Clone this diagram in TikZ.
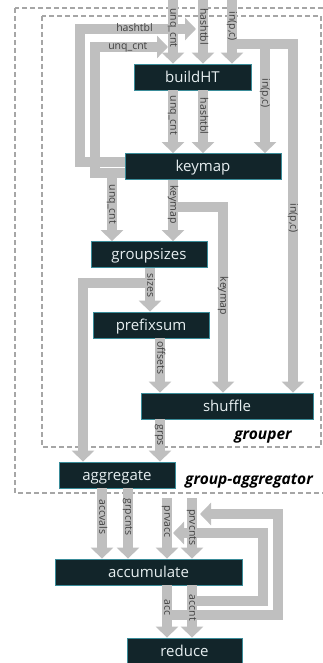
\documentclass[tikz,border=0pt]{standalone}
\usepackage{fontspec}
\setmainfont{Open Sans}
\usepackage{tikz}
\usetikzlibrary{positioning}
\usetikzlibrary{calc,arrows.meta}

\definecolor{stagefill}{HTML}{12252A}
\definecolor{stageedge}{HTML}{3A8C99}
\definecolor{stagetext}{HTML}{E6EEF0}
\definecolor{flowgray}{HTML}{BFBFBF}
\definecolor{taggray}{HTML}{404040}
\definecolor{framegray}{HTML}{A6A6A6}

\newcommand{\stagefont}{\fontsize{15}{17}\selectfont}
\newcommand{\tagfont}{\fontsize{10.5}{11}\selectfont}
\newcommand{\zonefont}{\bfseries\itshape\fontsize{15.5}{17}\selectfont}

\tikzset{
	stage/.style={draw=stageedge, line width=0.8pt, fill=stagefill, text=stagetext,
		minimum height=26pt, inner sep=0pt, text height=10.7pt, text depth=0pt, font=\stagefont},
	flow/.style={draw=flowgray, line width=9.5pt, -{Triangle[width=22pt,length=11pt]}},
	tag/.style={font=\tagfont, text=taggray, inner sep=0pt, text height=7.5pt, text depth=2pt},
	vtag/.style={tag, rotate=-90},
	frame/.style={draw=framegray, line width=1.1pt, dash pattern=on 5pt off 3pt},
	zone/.style={font=\zonefont, text=black, inner sep=0pt},
}

\begin{document}
\begin{tikzpicture}

	\useasboundingbox (0pt,0pt) rectangle (322pt,-663pt);

	% ---------------------
	% Dashed frames
	\draw[frame] (15pt,-8pt) rectangle (340pt,-493pt);
	\draw[frame] (42pt,-16pt) rectangle (321pt,-447pt);

	% ---------------------
	% Stages
	\node[stage, minimum width=117pt] (buildHT)    at (192.5pt,-77pt)  {buildHT};
	\node[stage, minimum width=156pt] (keymap)     at (203pt,-166.5pt) {keymap};
	\node[stage, minimum width=116pt] (groupsizes) at (149pt,-254.5pt) {groupsizes};
	\node[stage, minimum width=116pt] (prefixsum)  at (151pt,-325pt)   {prefixsum};
	\node[stage, minimum width=172pt] (shuffle)    at (227pt,-406pt)   {shuffle};
	\node[stage, minimum width=116pt] (aggregate)  at (117pt,-475pt)   {aggregate};
	\node[stage, minimum width=187pt] (accumulate) at (148.5pt,-572pt) {accumulate};
	\node[stage, minimum width=115pt] (reduce)     at (184.5pt,-651pt) {reduce};

	\node[zone] (grouperTag) at (263pt,-437pt) {grouper};
	\node[zone] (aggTag)     at (249pt,-481pt) {group-aggregator};

	% ---------------------
	% Columns
	\coordinate (InUnq)   at (173pt,0pt);
	\coordinate (InHash)  at (203pt,0pt);
	\coordinate (InPC)    at (232pt,0pt);
	\coordinate (PCKey)   at (265pt,0pt);
	\coordinate (PCShuf)  at (293pt,0pt);
	\coordinate (UnqDown) at (112pt,0pt);
	\coordinate (KeyShuf) at (223pt,0pt);
	\coordinate (SizeCol) at (150pt,0pt);
	\coordinate (SizeAgg) at (83pt,0pt);
	\coordinate (OffCol)  at (160pt,0pt);
	\coordinate (ValCol)  at (102pt,0pt);
	\coordinate (GrpCol)  at (128pt,0pt);
	\coordinate (AccCol)  at (167pt,0pt);
	\coordinate (CntCol)  at (192pt,0pt);

	% ---------------------
	% Loops and branches (below the straight flows)
	\path (keymap.west) +(0pt,4.5pt)  coordinate (KmHash);
	\path (keymap.west) +(0pt,-6.5pt) coordinate (KmUnq);
	\coordinate (HashTurn) at (80pt,-29pt);
	\coordinate (UnqTurn)  at (95pt,-47pt);
	\path (InHash) +(-7pt,-29pt) coordinate (HashJoin);
	\path (InUnq)  +(-5pt,-47pt) coordinate (UnqJoin);

	\draw[flow] (KmHash) -| (HashTurn) -- node[tag, pos=0.47] {hashtbl} (HashJoin);
	\draw[flow] (KmUnq) -| (UnqTurn) -- node[tag, pos=0.45] {unq\_cnt} (UnqJoin);
	\draw[flow] (KmUnq -| UnqDown) -- node[vtag, pos=0.46] {unq\_cnt} (UnqDown |- groupsizes.north);

	\path (InPC) +(0pt,-44pt) coordinate (PCSplit);
	\draw[flow] (PCSplit) -| node[vtag, pos=0.75] {in(p,c)} (PCShuf |- shuffle.north);
	\draw[flow] (PCSplit -| PCKey) -- node[vtag, pos=0.45] {in(p,c)} (PCKey |- keymap.north);

	\path (InUnq) +(0pt,-207pt) coordinate (KeySplit);
	\draw[flow] (KeySplit) -| node[vtag, pos=0.74] {keymap} (KeyShuf |- shuffle.north);

	\path (SizeCol) +(0pt,-283pt) coordinate (SizeSplit);
	\draw[flow] (SizeSplit) -| (SizeAgg |- aggregate.north);

	\path (CntCol) +(0pt,-601pt) coordinate (CntBack);
	\coordinate (InnerTurn) at (263pt,-533pt);
	\coordinate (InnerTip)  at (173pt,-533pt);
	\draw[flow] (CntBack) -| (InnerTurn) -- (InnerTip);

	\path (AccCol) +(0pt,-615pt) coordinate (AccBack);
	\coordinate (OuterTurn) at (278pt,-514pt);
	\coordinate (OuterTip)  at (200pt,-514pt);
	\draw[flow] (AccBack) -| (OuterTurn) -- (OuterTip);

	% ---------------------
	% Straight flows
	\draw[flow] (InUnq)  -- node[vtag, pos=0.44] {unq\_cnt} (InUnq |- buildHT.north);
	\draw[flow] (InHash) -- node[vtag, pos=0.42] {hashtbl} (InHash |- buildHT.north);
	\draw[flow] (InPC)   -- node[vtag, pos=0.41] {in(p,c)} (InPC |- buildHT.north);

	\draw[flow] (InUnq |- buildHT.south)  -- node[vtag, pos=0.40] {unq\_cnt} (InUnq |- keymap.north);
	\draw[flow] (InHash |- buildHT.south) -- node[vtag, pos=0.41] {hashtbl} (InHash |- keymap.north);

	\draw[flow] (InUnq |- keymap.south) -- node[vtag, pos=0.40] {keymap} (InUnq |- groupsizes.north);
	\draw[flow] (SizeCol |- groupsizes.south) -- node[vtag, pos=0.40] {sizes} (SizeCol |- prefixsum.north);
	\draw[flow] (OffCol |- prefixsum.south) -- node[vtag, pos=0.36] {offsets} (OffCol |- shuffle.north);
	\draw[flow] (OffCol |- shuffle.south) -- node[vtag, pos=0.37] {grps} (OffCol |- aggregate.north);

	\draw[flow] (ValCol |- aggregate.south) -- node[vtag, pos=0.41] {accvals} (ValCol |- accumulate.north);
	\draw[flow] (GrpCol |- aggregate.south) -- node[vtag, pos=0.41] {grpcnts} (GrpCol |- accumulate.north);

	\path (AccCol) +(0pt,-498pt) coordinate (PrvAcc);
	\path (CntCol) +(0pt,-498pt) coordinate (PrvCnt);
	\draw[flow] (PrvAcc) -- node[vtag, pos=0.39] {prvacc} (AccCol |- accumulate.north);
	\draw[flow] (PrvCnt) -- node[vtag, pos=0.48] {prvcnts} (CntCol |- accumulate.north);

	\draw[flow] (AccCol |- accumulate.south) -- node[vtag, pos=0.43] {acc} (AccCol |- reduce.north);
	\draw[flow] (CntCol |- accumulate.south) -- node[vtag, pos=0.43] {accnt} (CntCol |- reduce.north);

\end{tikzpicture}
\end{document}
